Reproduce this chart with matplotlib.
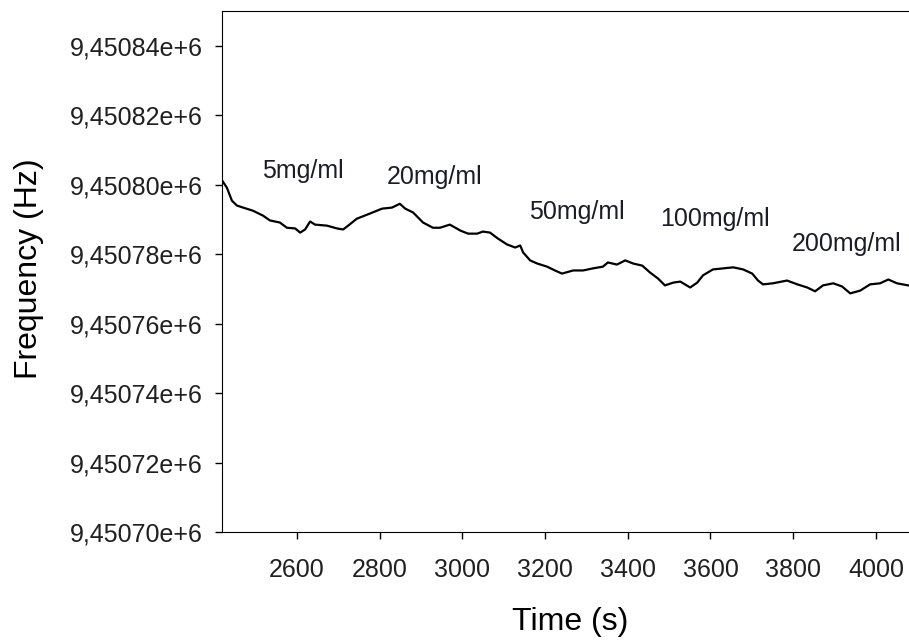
import matplotlib
matplotlib.use("Agg")
import matplotlib.pyplot as plt
from matplotlib.ticker import FuncFormatter

# time axis (s)
time_s = [2421, 2431, 2443, 2455, 2470, 2494, 2518, 2535, 2559, 2576,
          2596, 2608, 2620, 2632, 2644, 2673, 2697, 2712, 2724, 2745,
          2777, 2806, 2830, 2849, 2862, 2881, 2905, 2929, 2946, 2970,
          2995, 3014, 3036, 3050, 3067, 3086, 3108, 3128, 3140, 3147,
          3164, 3181, 3205, 3224, 3241, 3268, 3292, 3316, 3340, 3352,
          3374, 3394, 3413, 3435, 3454, 3473, 3490, 3510, 3527, 3551,
          3568, 3582, 3606, 3631, 3655, 3679, 3701, 3715, 3727, 3751,
          3785, 3810, 3834, 3853, 3872, 3897, 3918, 3938, 3962, 3986,
          4010, 4030, 4051, 4078]

# resonance frequency (Hz)
freq_hz = [9450800.9, 9450799.1, 9450795.4, 9450794.0, 9450793.4, 9450792.5, 9450791.1, 9450789.7, 9450789.1, 9450787.6,
           9450787.4, 9450786.2, 9450787.1, 9450789.4, 9450788.5, 9450788.2, 9450787.4, 9450787.1, 9450788.2, 9450790.2,
           9450791.7, 9450793.1, 9450793.4, 9450794.5, 9450793.1, 9450792.0, 9450789.1, 9450787.6, 9450787.6, 9450788.5,
           9450786.8, 9450785.9, 9450785.9, 9450786.5, 9450786.2, 9450784.5, 9450782.8, 9450781.9, 9450782.5, 9450780.5,
           9450778.2, 9450777.3, 9450776.4, 9450775.3, 9450774.4, 9450775.3, 9450775.3, 9450775.9, 9450776.4, 9450777.6,
           9450777.0, 9450778.2, 9450777.3, 9450776.7, 9450774.7, 9450773.0, 9450771.0, 9450771.8, 9450772.1, 9450770.4,
           9450771.8, 9450773.9, 9450775.6, 9450775.9, 9450776.2, 9450775.6, 9450774.4, 9450772.4, 9450771.3, 9450771.6,
           9450772.4, 9450771.3, 9450770.4, 9450769.3, 9450771.0, 9450771.6, 9450770.7, 9450768.7, 9450769.5, 9450771.3,
           9450771.6, 9450772.7, 9450771.6, 9450771.0]

# concentration labels and where they sit
conc_labels = ["5mg/ml", "20mg/ml", "50mg/ml", "100mg/ml", "200mg/ml"]
conc_x = [2615, 2934, 3277, 3611, 3930]
conc_y = [9450804.0, 9450802.3, 9450792.2, 9450790.2, 9450783.0]

y_ticks = [9450700, 9450720, 9450740, 9450760, 9450780, 9450800, 9450820, 9450840]
x_ticks = [2600, 2800, 3000, 3200, 3400, 3600, 3800, 4000]

plt.rcParams['font.family'] = ['Liberation Sans', 'DejaVu Sans']

fig = plt.figure(figsize=(9.09, 6.43), dpi=100)
ax = fig.add_axes([0.2442, 0.1726, 0.7558, 0.8103])

ax.plot(time_s, freq_hz, color='black', linewidth=1.6)

for lab, x, y in zip(conc_labels, conc_x, conc_y):
    ax.text(x, y, lab, ha='center', va='center', fontsize=18, color='#1c1c28')

ax.set_xlim(2419, 4080)
ax.set_ylim(9450700, 9450850)
ax.set_xticks(x_ticks)
ax.set_yticks(y_ticks)
ax.yaxis.set_major_formatter(FuncFormatter(lambda v, p: ("%.5f" % (v / 1e6)).replace('.', ',') + "e+6"))

ax.spines['right'].set_visible(False)
ax.tick_params(direction='out', length=5, width=1, labelsize=18, colors='black', labelcolor='#202020')
ax.tick_params(axis='x', pad=14)
ax.tick_params(axis='y', pad=9)

ax.set_xlabel("Time (s)", fontsize=23, va='center')
ax.set_ylabel("Frequency (Hz)", fontsize=23, va='center')
ax.xaxis.set_label_coords(0.507, -0.173)
ax.yaxis.set_label_coords(-0.281, 0.505)

fig.savefig("out.png", dpi=100)
